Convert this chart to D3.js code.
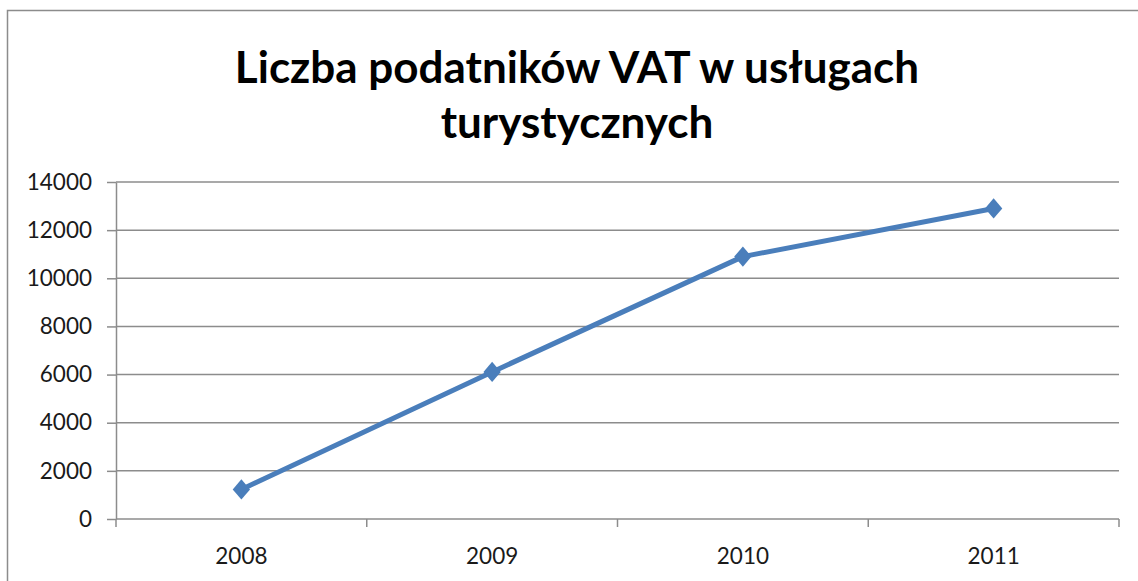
<!DOCTYPE html>
<html>
  <head>
    <meta charset="utf-8">
    <style>
    body {margin:0; background:white;}
    * { font-family: Lato, "Open Sans", sans-serif; }
    svg { background: white; display:block; }
    .grid line { stroke: #8c8c8c; stroke-width: 1.5; }
    .axis path, .axis line { stroke: #8c8c8c; stroke-width: 1.5; }
    .axis text { fill: #1a1a1a; font-size: 22.5px; }
    </style>
  </head>
  <body>
    <div id="chart"></div>
    <script src="https://d3js.org/d3.v7.min.js"></script>
<script>

  // data
  var years = ["2008", "2009", "2010", "2011"];
  var values = [1230, 6110, 10900, 12900];
  var yTicks = [0, 2000, 4000, 6000, 8000, 10000, 12000, 14000];
  var titleLines = ["Liczba podatników VAT w usługach", "turystycznych"];

  var W = 1138, H = 581;
  var margin = { top: 182, left: 116, right: 19, bottom: 62 };
  var width = W - margin.left - margin.right,
      height = H - margin.top - margin.bottom;

  var root = d3.select("#chart").append("svg")
    .attr("width", W)
    .attr("height", H);

  // outer chart frame (cut by the picture edges)
  root.append("rect")
    .attr("x", 7.5).attr("y", 10.5)
    .attr("width", 1300).attr("height", 700)
    .attr("fill", "none")
    .attr("stroke", "#8c8c8c")
    .attr("stroke-width", 1.5);

  root.append("text")
    .attr("text-anchor", "middle")
    .style("font-size", "44px")
    .style("font-weight", "bold")
    .style("fill", "#000")
    .selectAll("tspan")
    .data(titleLines)
    .enter().append("tspan")
    .attr("x", 577)
    .attr("y", function(d, i) { return 83 + i * 55; })
    .text(function(d) { return d; });

  var svg = root.append("g")
    .attr("transform", "translate(" + margin.left + "," + margin.top + ")");

  var x = d3.scaleBand().domain(years).range([0, width]).padding(0);
  var y = d3.scaleLinear().domain([0, 14000]).range([height, 0]);

  // gridlines
  svg.append("g").attr("class", "grid")
    .selectAll("line")
    .data(yTicks.filter(function(d) { return d > 0; }))
    .enter().append("line")
    .attr("x1", 0).attr("x2", width)
    .attr("y1", function(d) { return y(d); })
    .attr("y2", function(d) { return y(d); });

  // y axis
  svg.append("g").attr("class", "axis")
    .call(d3.axisLeft(y).tickValues(yTicks).tickFormat(d3.format("d"))
      .tickSize(9).tickPadding(15).tickSizeOuter(0));

  // x axis with ticks between categories
  var xAxis = svg.append("g").attr("class", "axis")
    .attr("transform", "translate(0," + height + ")")
    .call(d3.axisBottom(x).tickSize(0).tickPadding(29));
  xAxis.select(".domain").remove();
  xAxis.append("line")
    .attr("x1", 0).attr("x2", width)
    .attr("y1", 0).attr("y2", 0);
  xAxis.selectAll(".sep")
    .data(d3.range(years.length + 1))
    .enter().append("line")
    .attr("class", "sep")
    .attr("x1", function(i) { return i * x.bandwidth(); })
    .attr("x2", function(i) { return i * x.bandwidth(); })
    .attr("y1", 0).attr("y2", 8);

  var cx = function(d, i) { return x(years[i]) + x.bandwidth() / 2; };

  var line = d3.line()
    .x(function(d, i) { return cx(d, i); })
    .y(function(d) { return y(d); });

  svg.append("path")
    .datum(values)
    .attr("d", line)
    .attr("fill", "none")
    .attr("stroke", "#4a7ebb")
    .attr("stroke-width", 5)
    .attr("stroke-linejoin", "round");

  svg.append("g")
    .selectAll("path")
    .data(values)
    .enter().append("path")
    .attr("d", d3.symbol().type(d3.symbolSquare).size(150))
    .attr("transform", function(d, i) { return "translate(" + cx(d, i) + "," + y(d) + ") scale(1,1.17) rotate(45)"; })
    .attr("fill", "#4a7ebb");

</script>
  </body>
</html>
